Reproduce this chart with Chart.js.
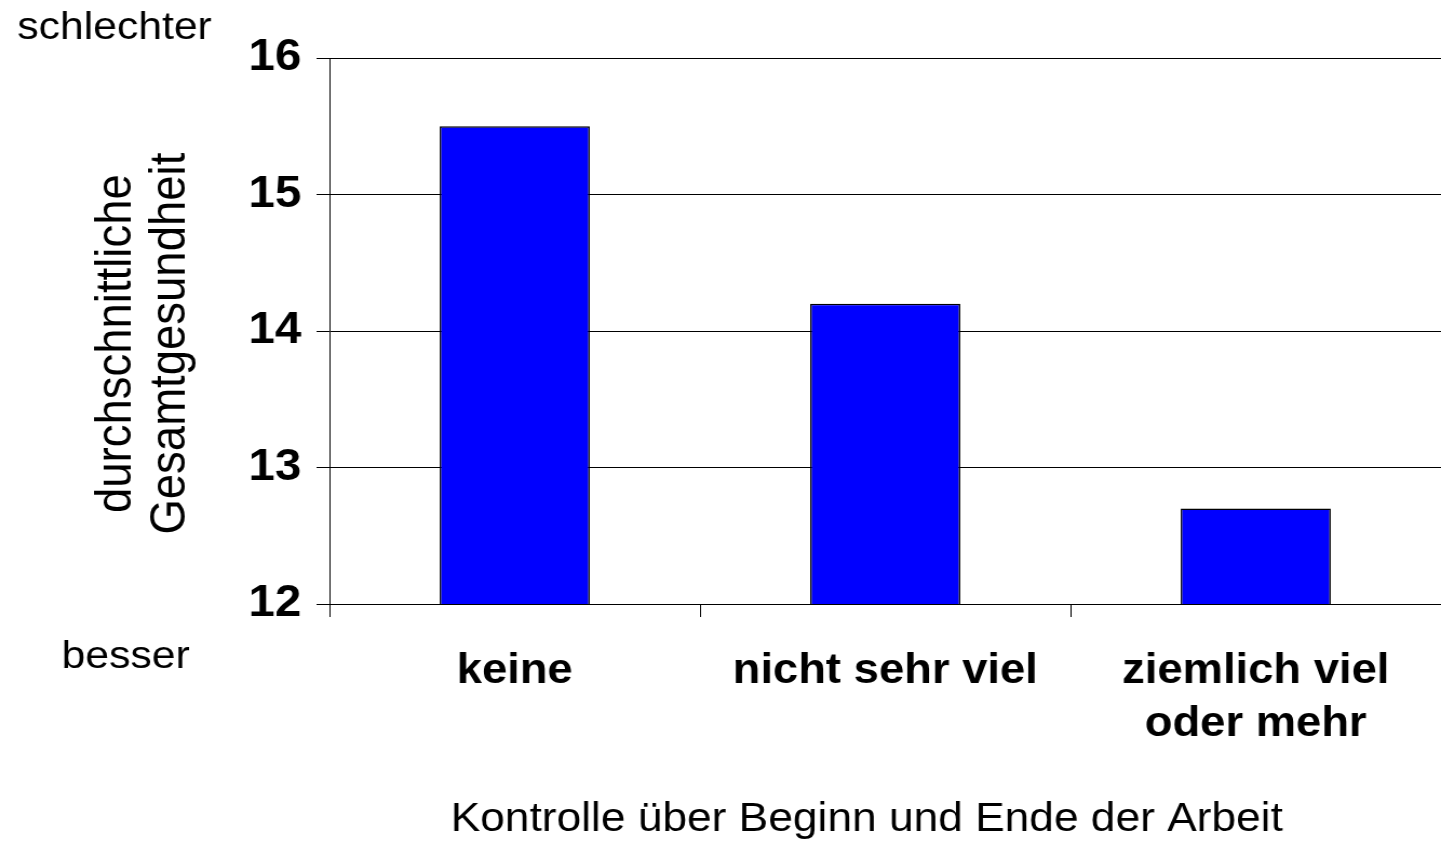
<!DOCTYPE html>
<html>
<head>
<meta charset="utf-8">
<script src="https://cdn.jsdelivr.net/npm/chart.js@4"></script>
<style>
  html, body { margin: 0; padding: 0; background: #fff; overflow: hidden; }
</style>
</head>
<body>
<!-- reference is a little wider than tall, so the canvas is stretched sideways -->
<canvas id="myChart" width="1334" height="845" style="display:block;width:1441px;height:845px"></canvas>
<script>
// Data
let categories = [["keine"], ["nicht sehr viel"], ["ziemlich viel", "oder mehr"]];
let gesundheit = [15.5, 14.2, 12.7];
let yTicks = [12, 13, 14, 15, 16];
// trailing spaces nudge the centred titles, like the original
let yTitle = ["durchschnittliche  ", "Gesamtgesundheit  "];
let xTitle = "Kontrolle über Beginn und Ende der Arbeit   ";
let topWord = "schlechter",
  bottomWord = "besser";

let fontFamily = "'Liberation Sans', Arial, Helvetica, sans-serif";

// Writes "schlechter" / "besser" next to the y axis ends
let endWords = {
  id: "endWords",
  afterDraw(chart) {
    let ctx = chart.ctx;
    let y = chart.scales.y;
    ctx.save();
    ctx.fillStyle = "#000";
    ctx.font = "39.5px " + fontFamily;
    ctx.textAlign = "left";
    ctx.textBaseline = "alphabetic";
    ctx.fillText(topWord, 16, y.getPixelForValue(yTicks[yTicks.length - 1]) - 19);
    ctx.fillText(bottomWord, 57, y.getPixelForValue(yTicks[0]) + 64);
    ctx.restore();
  }
};

let ctx = document.getElementById("myChart").getContext("2d");
let myChart = new Chart(ctx, {
  type: "bar",
  data: {
    labels: categories,
    datasets: [{
      data: gesundheit,
      backgroundColor: "#0000ff",
      borderColor: "#000",
      borderWidth: 1.5,
      barPercentage: 0.405,
      categoryPercentage: 1
    }]
  },
  options: {
    responsive: false,
    animation: false,
    devicePixelRatio: 1,
    layout: { padding: { top: 58, left: 0, right: 0, bottom: 0 } },
    plugins: {
      legend: { display: false },
      tooltip: { enabled: false }
    },
    scales: {
      x: {
        afterFit: (scale) => { scale.height = 241; },
        grid: {
          drawOnChartArea: false,
          drawTicks: true,
          tickLength: 13,
          color: "#000",
          lineWidth: 1
        },
        border: { display: true, color: "#000", width: 1 },
        ticks: {
          color: "#000",
          padding: 28,
          maxRotation: 0,
          autoSkip: false,
          font: { family: fontFamily, size: 42, weight: "bold", lineHeight: 1.26 }
        },
        title: {
          display: true,
          text: xTitle,
          color: "#000",
          padding: { top: 0, bottom: 1 },
          font: { family: fontFamily, size: 41, lineHeight: 1.2 }
        }
      },
      y: {
        min: yTicks[0],
        max: yTicks[yTicks.length - 1],
        afterFit: (scale) => { scale.width = 305; },
        afterBuildTicks: (scale) => { scale.ticks = yTicks.map(v => ({ value: v })); },
        grid: {
          color: "#000",
          lineWidth: 1,
          drawTicks: true,
          tickLength: 12
        },
        border: { display: true, color: "#000", width: 1 },
        ticks: {
          color: "#000",
          padding: 14,
          font: { family: fontFamily, size: 44, weight: "bold" }
        },
        title: {
          display: true,
          text: yTitle,
          color: "#000",
          padding: { top: 83, bottom: 0 },
          font: { family: fontFamily, size: 45.5, lineHeight: 1.1 }
        }
      }
    }
  },
  plugins: [endWords]
});
</script>
</body>
</html>
